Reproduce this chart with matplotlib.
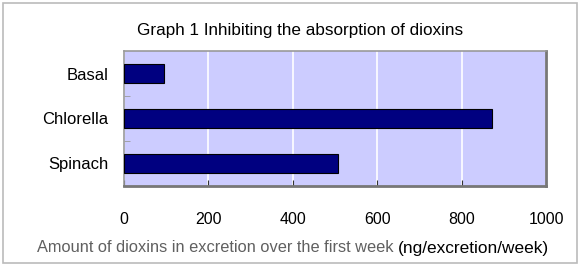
import matplotlib.pyplot as plt
from matplotlib.patches import Rectangle

categories = ['Basal', 'Chlorella', 'Spinach']
amounts = [95, 871, 507]
x_ticks = [0, 200, 400, 600, 800, 1000]

plt.rcParams['font.family'] = ['Liberation Sans', 'DejaVu Sans']

fig = plt.figure(figsize=(5.8, 2.66), dpi=100)
ax = fig.add_axes([124 / 580, 1 - 186 / 266, 422 / 580, 135 / 266])

ax.set_facecolor('#ccccff')
ax.barh(range(len(categories)), amounts, height=0.42, color='#000080',
        edgecolor='black', linewidth=0.8, zorder=3)

ax.set_xlim(0, 1000)
ax.set_ylim(2.5, -0.5)
ax.set_xticks(x_ticks)
ax.set_xticklabels([str(t) for t in x_ticks], fontsize=11.5)
ax.tick_params(axis='x', direction='in', length=4, pad=19, color='#333333')
ax.set_yticks(range(len(categories)))
ax.set_yticklabels(categories, fontsize=12)
ax.tick_params(axis='y', length=0, pad=11)
ax.set_yticks([0.5, 1.5], minor=True)
ax.tick_params(axis='y', which='minor', direction='in', length=4, color='#999999')
ax.grid(axis='x', color='white', linewidth=1.2, zorder=1)

for side in ['top', 'left']:
    ax.spines[side].set_color('#999999')
    ax.spines[side].set_linewidth(1.2)
for side in ['bottom', 'right']:
    ax.spines[side].set_color('#777777')
    ax.spines[side].set_linewidth(2)

fig.text(300 / 580, 1 - 31 / 266, 'Graph 1 Inhibiting the absorption of dioxins',
         ha='center', va='center', fontsize=12.3)
fig.text(37 / 580, 1 - 248 / 266, 'Amount of dioxins in excretion over the first week',
         ha='left', va='center', fontsize=11.8, color='#606060')
fig.text(398 / 580, 1 - 248 / 266, '(ng/excretion/week)',
         ha='left', va='center', fontsize=12.4, color='black')

fig.patches.append(Rectangle((3 / 580, 3 / 266), 574 / 580, 260 / 266,
                             transform=fig.transFigure, fill=False,
                             edgecolor='#bbbbbb', linewidth=1.2))

fig.savefig('out.png', dpi=100)
